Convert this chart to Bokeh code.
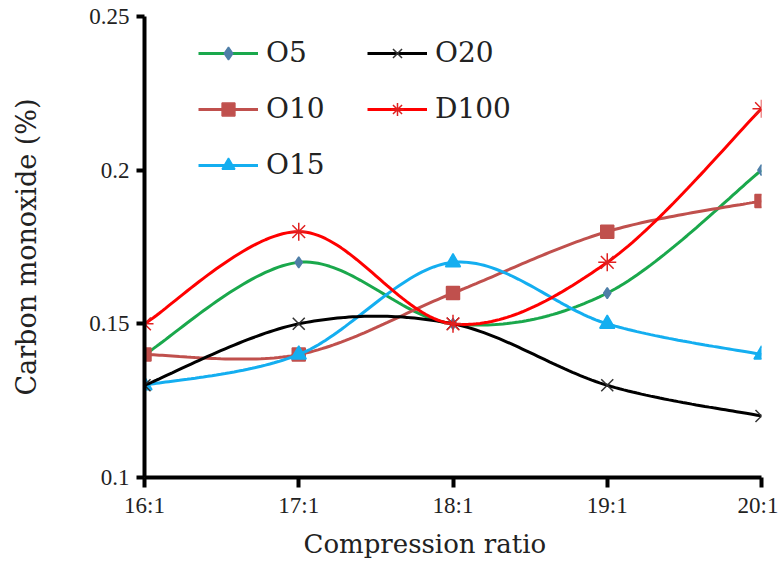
import numpy as np
from bokeh.plotting import figure
from bokeh.models import (ColumnDataSource, FixedTicker, Legend, LegendItem,
                          NumeralTickFormatter, Range1d, Title)
from bokeh.embed import file_html
from bokeh.resources import INLINE

categories = ["16:1", "17:1", "18:1", "19:1", "20:1"]
o5 = [0.14, 0.17, 0.15, 0.16, 0.20]
o10 = [0.14, 0.14, 0.16, 0.18, 0.19]
o15 = [0.13, 0.14, 0.17, 0.15, 0.14]
o20 = [0.13, 0.15, 0.15, 0.13, 0.12]
d100 = [0.15, 0.18, 0.15, 0.17, 0.22]
y_ticks = [0.1, 0.15, 0.2, 0.25]

TICKFONT = "Liberation Serif"
LABELFONT = "DejaVu Serif"


def smooth(xs, ys, n=40):
    """Catmull-Rom (Excel-like smoothed line) through the data points."""
    xs = np.asarray(xs, float)
    ys = np.asarray(ys, float)
    px = np.concatenate([[xs[0]], xs, [xs[-1]]])
    py = np.concatenate([[ys[0]], ys, [ys[-1]]])
    ox, oy = [], []
    for i in range(1, len(px) - 2):
        t = np.linspace(0, 1, n, endpoint=(i == len(px) - 3))
        p0x, p1x, p2x, p3x = px[i - 1], px[i], px[i + 1], px[i + 2]
        p0y, p1y, p2y, p3y = py[i - 1], py[i], py[i + 1], py[i + 2]
        c1x, c1y = p1x + (p2x - p0x) / 6, p1y + (p2y - p0y) / 6
        c2x, c2y = p2x - (p3x - p1x) / 6, p2y - (p3y - p1y) / 6
        b = lambda a, c, d, e: ((1 - t) ** 3 * a + 3 * (1 - t) ** 2 * t * c
                                + 3 * (1 - t) * t ** 2 * d + t ** 3 * e)
        ox.extend(b(p1x, c1x, c2x, p2x))
        oy.extend(b(p1y, c1y, c2y, p2y))
    return ox, oy


x = list(range(len(categories)))

p = figure(width=778, height=572, output_backend="svg", toolbar_location=None,
           x_range=Range1d(0, len(categories) - 1), y_range=Range1d(0.1, 0.25),
           min_border_left=144, min_border_right=17, min_border_top=16,
           min_border_bottom=95)
p.outline_line_color = None
p.grid.visible = False
p.background_fill_color = "white"

series = [
    ("O5", o5, "#1aa84c", "diamond", 11, "#4f7fa8"),
    ("O10", o10, "#c0504d", "square", 13, "#c0504d"),
    ("O15", o15, "#14aef0", "triangle", 15, "#14aef0"),
    ("O20", o20, "#000000", "x", 17, "#333333"),
    ("D100", d100, "#ff0000", "asterisk", 18, "#e02020"),
]

items = {}
for name, vals, col, mk, sz, mcol in series:
    sx, sy = smooth(x, vals)
    ln = p.line(sx, sy, line_color=col, line_width=3)
    src = ColumnDataSource(dict(x=x, y=vals))
    m = p.scatter("x", "y", source=src, marker=mk, size=sz, fill_color=mcol,
                  line_color=mcol, line_width=1.5)
    items[name] = LegendItem(label=name, renderers=[ln, m])

legend = Legend(items=[items[k] for k in ["O5", "O10", "O15", "O20", "D100"]],
                nrows=3, location=(54, 296), border_line_color=None,
                background_fill_alpha=0, label_text_font=LABELFONT,
                label_text_font_size="28px", label_text_color="#222222",
                glyph_width=60, glyph_height=32,
                label_height=32, label_width=78, spacing=23, label_standoff=8,
                padding=10, margin=0)
p.add_layout(legend, "center")

for ax in (p.xaxis[0], p.yaxis[0]):
    ax.axis_line_width = 4
    ax.axis_line_color = "black"
    ax.major_tick_line_width = 4
    ax.major_tick_line_color = "black"
    ax.major_tick_in = 0
    ax.minor_tick_line_color = None
    ax.major_label_text_font = TICKFONT
    ax.major_label_text_font_size = "23px"
    ax.major_label_text_color = "#222222"
    ax.axis_label_text_font = LABELFONT
    ax.axis_label_text_font_size = "27px"
    ax.axis_label_text_font_style = "normal"
    ax.axis_label_text_color = "#222222"

p.xaxis.ticker = FixedTicker(ticks=x)
p.xaxis.major_label_overrides = {i: c for i, c in enumerate(categories)}
p.xaxis.major_tick_out = 10
p.xaxis.major_label_standoff = 5

p.yaxis.ticker = FixedTicker(ticks=y_ticks)
p.yaxis.formatter = NumeralTickFormatter(format="0.[00]")
p.yaxis.major_tick_out = 8
p.yaxis.major_label_standoff = 7
p.yaxis.axis_label = "Carbon monoxide (%)"
p.yaxis.axis_label_standoff = 44

xtitle = Title(text="Compression ratio", align="left", offset=159,
               text_font=LABELFONT, text_font_size="26px",
               text_font_style="normal", text_color="#222222", standoff=12)
p.add_layout(xtitle, "below")

open("out.html", "w").write(file_html(p, INLINE))
